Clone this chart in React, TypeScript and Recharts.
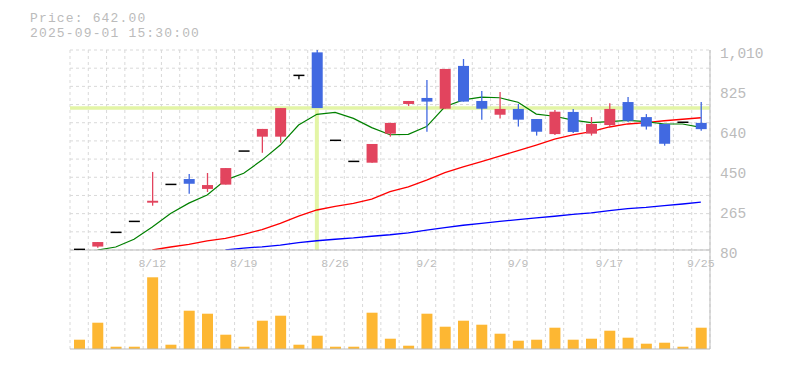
import React from "react";
import {
  ComposedChart,
  BarChart,
  Bar,
  Line,
  XAxis,
  YAxis,
  CartesianGrid,
  ReferenceLine,
} from "recharts";

// trading days shown on the chart
const dates = [
  "8/5", "8/6", "8/7", "8/8", "8/12", "8/13", "8/14", "8/15", "8/18", "8/19",
  "8/20", "8/21", "8/22", "8/25", "8/26", "8/27", "8/28", "8/29", "9/1", "9/2",
  "9/3", "9/4", "9/5", "9/8", "9/9", "9/10", "9/11", "9/12", "9/16", "9/17",
  "9/18", "9/19", "9/22", "9/24", "9/25",
];

const opens = [83, 96, 162, 213, 300, 385, 410, 364, 384, 540, 607, 607, 892, 999, 590, 492, 486, 621, 759, 787, 737, 936, 773, 709, 736, 689, 619, 722, 621, 661, 768, 698, 666, 674, 671];
const highs = [83, 117, 162, 213, 443, 385, 433, 438, 461, 540, 643, 740, 892, 1010, 590, 492, 573, 671, 773, 870, 922, 968, 819, 815, 759, 689, 731, 736, 698, 762, 791, 712, 666, 674, 768];
const lows = [79, 90, 162, 213, 286, 385, 342, 350, 384, 540, 532, 579, 874, 740, 590, 492, 486, 607, 750, 630, 737, 770, 686, 691, 654, 612, 615, 624, 612, 654, 675, 640, 565, 674, 635];
const closes = [83, 117, 162, 213, 309, 385, 388, 382, 461, 540, 643, 740, 892, 740, 590, 492, 573, 671, 773, 770, 922, 770, 737, 736, 686, 630, 723, 629, 666, 736, 681, 654, 574, 674, 642];

const ma5 = [null, 80, 94, 130, 187, 250, 298, 336, 405, 437, 498, 568, 661, 711, 720, 692, 649, 616, 618, 654, 746, 778, 791, 788, 767, 712, 702, 684, 672, 677, 683, 677, 666, 666, 650];
const ma25 = [null, null, null, null, 80, 94, 106, 122, 134, 153, 175, 204, 238, 266, 283, 297, 317, 351, 374, 405, 440, 467, 491, 517, 542, 568, 596, 615, 630, 652, 666, 672, 681, 688, 695];
const ma75 = [null, null, null, null, null, null, null, null, 80, 89, 95, 103, 114, 123, 130, 136, 144, 151, 160, 172, 184, 195, 204, 213, 221, 229, 237, 246, 253, 263, 272, 278, 286, 294, 303];

const volumes = [930, 2630, 230, 230, 7170, 430, 3830, 3530, 1430, 230, 2830, 3330, 430, 1330, 230, 230, 3630, 1030, 330, 3530, 2230, 2830, 2430, 1530, 830, 930, 2130, 930, 1030, 1830, 1130, 530, 630, 230, 2130];

const shownDates = ["8/12", "8/19", "8/26", "9/2", "9/9", "9/17", "9/25"];
const priceTicks = [80, 265, 450, 640, 825, 1010];

const crossDate = "8/25";
const crossPrice = 740;

const data = dates.map((d, i) => ({
  date: d,
  open: opens[i],
  high: highs[i],
  low: lows[i],
  close: closes[i],
  ma5: ma5[i],
  ma25: ma25[i],
  ma75: ma75[i],
  volume: volumes[i],
}));

const UP = "#e2445e";
const DOWN = "#4169e1";
const GRID = "#d9d9d9";
const AXIS = "#bbbbbb";
const TEXT = "#bbbbbb";
const MONO = "'Liberation Mono', 'DejaVu Sans Mono', monospace";
const CROSS = "#e3f5a6";

const Candle = (props: any) => {
  const { x, y, width, height, payload } = props;
  const { open, close, high, low } = payload;
  const cx = x + width / 2;
  if (high === low) {
    return <line x1={x} x2={x + width} y1={y} y2={y} stroke="#000" strokeWidth={1.5} />;
  }
  const k = height / (high - low);
  const yOf = (v: number) => y + (high - v) * k;
  if (open === close) {
    return (
      <g>
        <line x1={cx} x2={cx} y1={y} y2={y + height} stroke="#000" strokeWidth={1.3} />
        <line x1={x} x2={x + width} y1={yOf(open)} y2={yOf(open)} stroke="#000" strokeWidth={1.5} />
      </g>
    );
  }
  const color = close > open ? UP : DOWN;
  const top = yOf(Math.max(open, close));
  const bottom = yOf(Math.min(open, close));
  return (
    <g>
      <line x1={cx} x2={cx} y1={y} y2={y + height} stroke={color} strokeWidth={1.3} />
      <rect x={x} y={top} width={width} height={Math.max(bottom - top, 1)} fill={color} />
    </g>
  );
};

const XTick = (props: any) => {
  const { x, y, payload } = props;
  if (!shownDates.includes(payload.value)) return <g />;
  return (
    <text x={x} y={y + 9} textAnchor="middle" fill={TEXT} fontSize={11.5} fontFamily={MONO}>
      {payload.value}
    </text>
  );
};

const YTick = (props: any) => {
  const { x, y, payload } = props;
  return (
    <text x={x + 2} y={y + 8} textAnchor="start" fill={TEXT} fontSize={14.5} fontFamily={MONO}>
      {payload.value.toLocaleString("en-US")}
    </text>
  );
};

const vGrid = ({ offset }: any) =>
  Array.from({ length: dates.length + 1 }, (_, i) => offset.left + (i * offset.width) / dates.length);
const hGrid = ({ offset }: any) =>
  Array.from({ length: 12 }, (_, i) => offset.top + (i * offset.height) / 11);

const headerStyle: React.CSSProperties = {
  position: "absolute",
  left: 30,
  fontFamily: MONO,
  fontSize: 13,
  letterSpacing: 1.15,
  lineHeight: "14px",
  color: TEXT,
  whiteSpace: "pre",
};

export default function App() {
  return (
    <div style={{ position: "absolute", left: 0, top: 0, width: 785, height: 370, background: "#fff" }}>
      <div style={{ ...headerStyle, top: 12 }}>Price: 642.00</div>
      <div style={{ ...headerStyle, top: 27 }}>2025-09-01 15:30:00</div>

      <div style={{ position: "absolute", left: 0, top: 0 }}>
        <ComposedChart width={785} height={270} data={data} margin={{ top: 50, right: 0, left: 70, bottom: 0 }}>
          <CartesianGrid
            stroke={GRID}
            strokeDasharray="3 3"
            verticalCoordinatesGenerator={vGrid}
            horizontalCoordinatesGenerator={hGrid}
          />
          <XAxis
            dataKey="date"
            interval={0}
            height={20}
            tickLine={false}
            axisLine={{ stroke: AXIS }}
            tick={<XTick />}
          />
          <YAxis
            orientation="right"
            width={75}
            domain={[80, 1010]}
            allowDataOverflow
            ticks={priceTicks}
            tickLine={false}
            axisLine={{ stroke: AXIS }}
            tickMargin={2}
            tick={<YTick />}
          />
          <ReferenceLine y={crossPrice} stroke={CROSS} strokeWidth={3.5} zIndex={100} />
          <ReferenceLine
            segment={[
              { x: crossDate, y: crossPrice },
              { x: crossDate, y: 80 },
            ]}
            stroke={CROSS}
            strokeWidth={4}
            zIndex={100}
          />
          <Line type="linear" dataKey="ma75" stroke="#0000ff" strokeWidth={1.3} dot={false} isAnimationActive={false} />
          <Line type="linear" dataKey="ma25" stroke="#ff0000" strokeWidth={1.3} dot={false} isAnimationActive={false} />
          <Line type="linear" dataKey="ma5" stroke="#008000" strokeWidth={1.2} dot={false} isAnimationActive={false} />
          <Bar
            dataKey={(d: any) => [d.low, d.high]}
            barSize={11}
            shape={<Candle />}
            isAnimationActive={false}
            zIndex={600}
          />
        </ComposedChart>
      </div>

      <div style={{ position: "absolute", left: 0, top: 250 }}>
        <BarChart width={785} height={120} data={data} margin={{ top: 0, right: 0, left: 70, bottom: 20 }}>
          <CartesianGrid
            stroke={GRID}
            strokeDasharray="3 3"
            horizontal={false}
            verticalCoordinatesGenerator={vGrid}
          />
          <XAxis dataKey="date" height={1} tick={false} tickLine={false} axisLine={{ stroke: AXIS }} />
          <YAxis orientation="right" width={75} domain={[0, 9900]} tick={false} tickLine={false} axisLine={{ stroke: AXIS }} />
          <Bar dataKey="volume" fill="#fdb733" barSize={11} isAnimationActive={false} />
        </BarChart>
      </div>
    </div>
  );
}
